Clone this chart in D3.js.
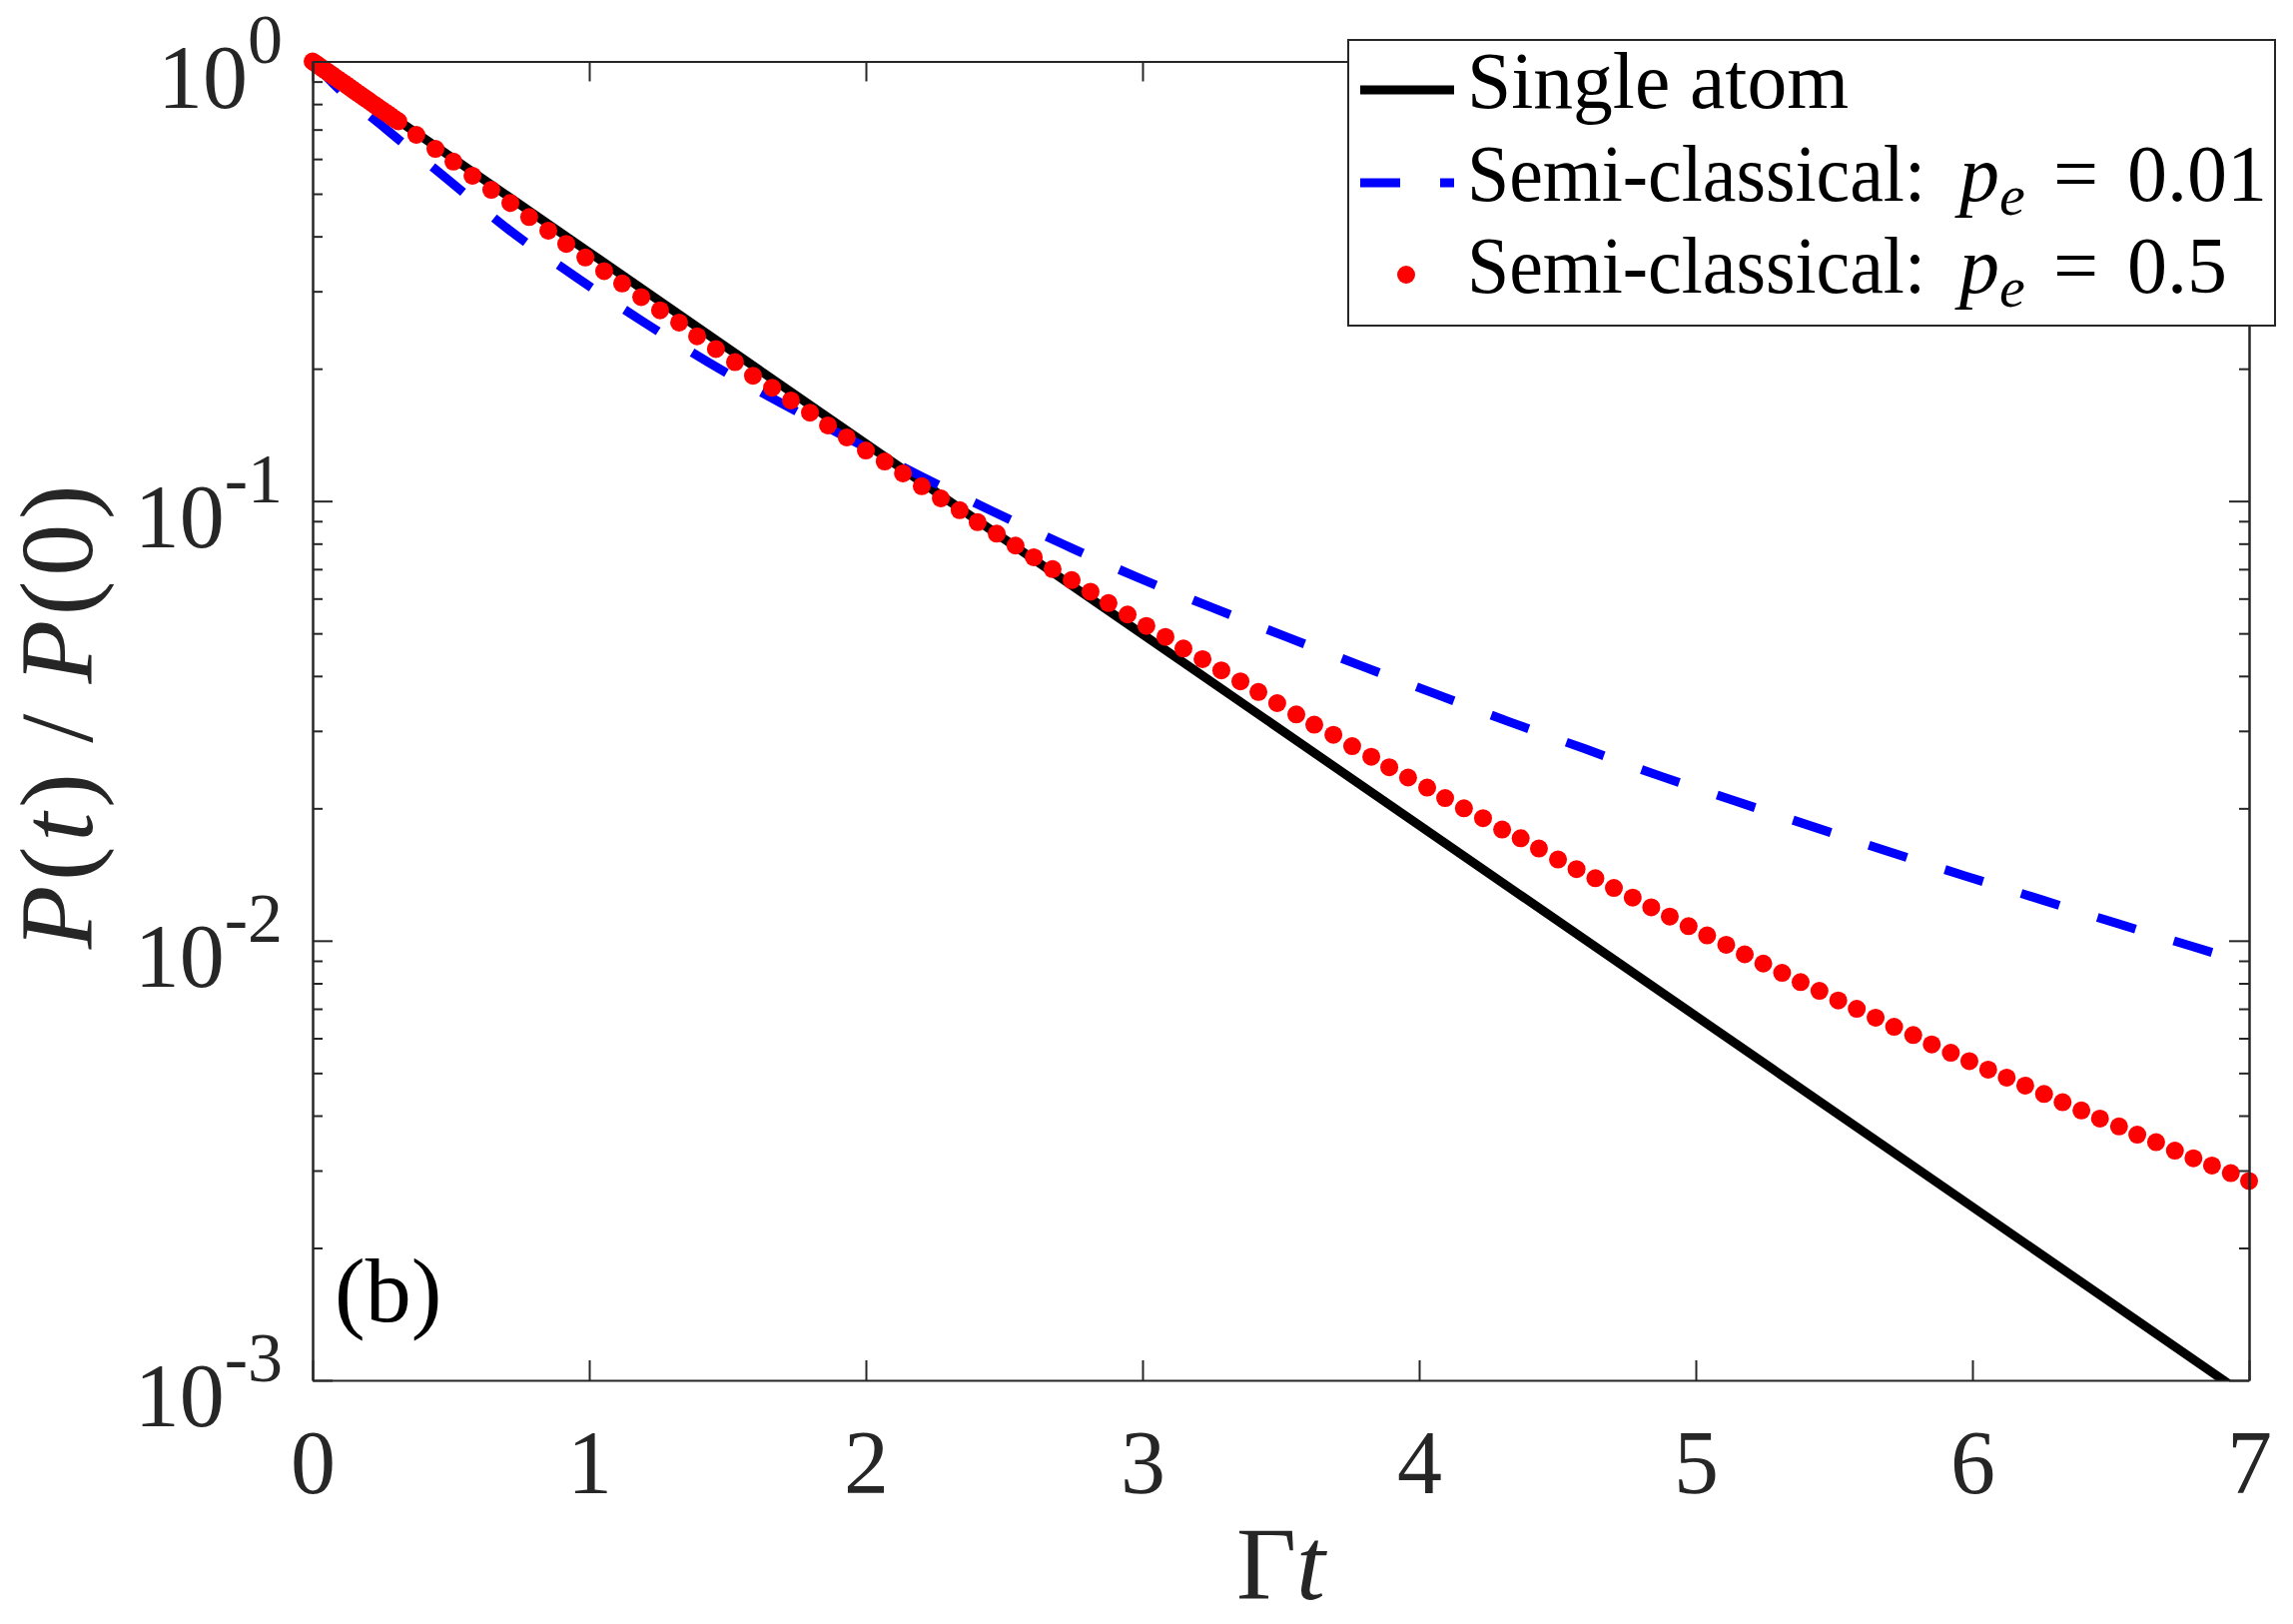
<!DOCTYPE html>
<html lang="en">
<head>
<meta charset="UTF-8">
<script src="https://d3js.org/d3.v7.min.js"></script>
<title>P(t)/P(0) decay</title>
<style>
  body { margin: 0; background: #fff; }
  svg text { font-family: "Liberation Serif", "Times New Roman", serif; }
</style>
</head>
<body>
<div id="chart"></div>
<script>
// ---- data ----
// single atom (black solid line)
const singleT = [0, 1, 2, 3, 4, 5, 6, 7];
const singleP = [1, 0.368, 0.135, 0.0498, 0.0183, 0.00674, 0.00248, 0.000912];

// semi-classical, pe = 0.01 (blue dashed)
const pe001T = [0, 0.09, 0.27, 0.49, 0.71, 0.95, 1.19, 1.43, 1.69, 1.93, 2.2, 2.46, 2.72, 2.98,
  3.25, 3.52, 3.79, 4.06, 4.33, 4.6, 4.87, 5.14, 5.42, 5.69, 5.97, 6.25, 6.52, 6.8, 7];
const pe001P = [1, 0.871, 0.698, 0.538, 0.414, 0.324, 0.257, 0.207, 0.1675, 0.1396, 0.1138, 0.0946,
  0.0794, 0.0671, 0.0573, 0.0491, 0.0422, 0.0364, 0.0314, 0.0273, 0.0237, 0.0208, 0.0182, 0.0160,
  0.01406, 0.01239, 0.01096, 0.00968, 0.00887];

// semi-classical, pe = 0.5 (red dots)
const pe05T = [0, 0.01, 0.02, 0.03, 0.04, 0.05, 0.06, 0.07, 0.08, 0.09, 0.1, 0.11, 0.12, 0.13, 0.14,
  0.15, 0.16, 0.17, 0.18, 0.19, 0.2, 0.21, 0.22, 0.23, 0.24, 0.25, 0.26, 0.27, 0.28, 0.29, 0.3, 0.31,
  0.375, 0.444, 0.509, 0.578, 0.646, 0.715, 0.783, 0.852, 0.917, 0.986,
  1.054, 1.119, 1.188, 1.256, 1.325, 1.39, 1.458, 1.527, 1.592, 1.661,
  1.729, 1.798, 1.863, 1.931, 2.0, 2.068, 2.134, 2.202, 2.271, 2.339,
  2.404, 2.473, 2.541, 2.607, 2.675, 2.744, 2.812, 2.877, 2.946, 3.014,
  3.083, 3.148, 3.217, 3.285, 3.354, 3.419, 3.487, 3.556, 3.621, 3.69,
  3.758, 3.827, 3.892, 3.96, 4.029, 4.094, 4.162, 4.231, 4.3, 4.367,
  4.433, 4.502, 4.569, 4.637, 4.704, 4.772, 4.839, 4.906, 4.974, 5.041,
  5.11, 5.177, 5.244, 5.312, 5.379, 5.447, 5.515, 5.582, 5.65, 5.717,
  5.786, 5.853, 5.922, 5.989, 6.057, 6.124, 6.191, 6.259, 6.326, 6.394,
  6.461, 6.53, 6.596, 6.664, 6.732, 6.799, 6.866, 6.934, 7.0];
const pe05P = [1.000, 0.990, 0.980, 0.970, 0.960, 0.951, 0.941, 0.932, 0.922, 0.913, 0.904, 0.895,
  0.886, 0.877, 0.868, 0.859, 0.850, 0.842, 0.833, 0.825, 0.817, 0.808, 0.800, 0.792, 0.784, 0.776,
  0.768, 0.761, 0.753, 0.745, 0.738, 0.731,
  0.6808, 0.6324, 0.5916, 0.5495, 0.5105, 0.4764, 0.4426, 0.4121, 0.3846, 0.3581,
  0.3334, 0.3126, 0.2911, 0.2716, 0.2547, 0.2371, 0.2218, 0.2070, 0.1928, 0.1811,
  0.1694, 0.1589, 0.1486, 0.1396, 0.1303, 0.1230, 0.1156, 0.1081, 0.1014, 0.0953,
  0.0895, 0.0843, 0.0792, 0.0745, 0.0700, 0.0661, 0.0622, 0.0586, 0.0552, 0.0520,
  0.0491, 0.0462, 0.0437, 0.0412, 0.0389, 0.0368, 0.0347, 0.0327, 0.0310, 0.0294,
  0.0277, 0.0262, 0.0248, 0.0235, 0.0223, 0.0211, 0.0200, 0.0190, 0.0179, 0.0171,
  0.0162, 0.0153, 0.01455, 0.01387, 0.01318, 0.01253, 0.01191, 0.01135, 0.01079, 0.01028,
  0.00979, 0.00931, 0.00887, 0.00845, 0.00805, 0.00769, 0.00731, 0.00700, 0.00668, 0.00637,
  0.00610, 0.00581, 0.00556, 0.00532, 0.00509, 0.00488, 0.00468, 0.00448, 0.00429, 0.00411,
  0.00394, 0.00378, 0.00362, 0.00348, 0.00333, 0.00320, 0.00308, 0.00296, 0.00284];

// ticks
const xTicks = [0, 1, 2, 3, 4, 5, 6, 7];
const yTicks = [1, 0.1, 0.01, 0.001];
const yTickExp = ["0", "-1", "-2", "-3"];

// legend
const legendNames = ["Single atom", "Semi-classical:", "Semi-classical:"];
const legendPe = [null, "0.01", "0.5"];

// ---- layout ----
const W = 2296, H = 1626;
const plot = { left: 313, right: 2252, top: 61.5, bottom: 1382 };
const ink = "#262626";

const x = d3.scaleLinear().domain([0, 7]).range([plot.left, plot.right]);
const y = d3.scaleLog().domain([0.001, 1]).range([plot.bottom, plot.top]);

const svg = d3.select("#chart").append("svg")
  .attr("width", W).attr("height", H);
svg.append("rect").attr("width", W).attr("height", H).attr("fill", "#fff");

svg.append("clipPath").attr("id", "clip")
  .append("rect")
  .attr("x", plot.left).attr("y", plot.top)
  .attr("width", plot.right - plot.left).attr("height", plot.bottom - plot.top);

// ---- curves ----
const line = d3.line().x(d => x(d[0])).y(d => y(d[1]));

svg.append("path")
  .datum(d3.zip(singleT, singleP))
  .attr("clip-path", "url(#clip)")
  .attr("fill", "none").attr("stroke", "#000").attr("stroke-width", 9)
  .attr("d", line);

svg.append("path")
  .datum(d3.zip(pe001T, pe001P))
  .attr("clip-path", "url(#clip)")
  .attr("fill", "none").attr("stroke", "#0000ff").attr("stroke-width", 9)
  .attr("stroke-dasharray", "40,40")
  .attr("d", line.curve(d3.curveMonotoneX));

svg.append("g")
  .selectAll("circle")
  .data(d3.zip(pe05T, pe05P))
  .join("circle")
  .attr("cx", d => x(d[0]))
  .attr("cy", d => y(d[1]))
  .attr("r", 9)
  .attr("fill", "#ff0000");

// ---- axes (ticks point inward on all four sides) ----
function styleAxis(g) {
  g.attr("color", ink);
  g.select(".domain").attr("stroke-width", 2);
  g.selectAll(".tick line").attr("stroke-width", 2);
}
const minorY = y.ticks().filter(v => Math.abs(Math.log10(v) - Math.round(Math.log10(v))) > 1e-6);

svg.append("g")
  .attr("transform", `translate(0,${plot.bottom})`)
  .call(d3.axisBottom(x).tickValues(xTicks).tickFormat(d3.format("d"))
    .tickSizeInner(-20).tickSizeOuter(0).tickPadding(49))
  .call(styleAxis)
  .attr("font-size", 90)
  .attr("font-family", "Liberation Serif, serif");

svg.append("g")
  .attr("transform", `translate(0,${plot.top})`)
  .call(d3.axisTop(x).tickValues(xTicks).tickSizeInner(-20).tickSizeOuter(0).tickFormat(""))
  .call(styleAxis);

[[d3.axisLeft, plot.left], [d3.axisRight, plot.right]].forEach(([ax, pos]) => {
  svg.append("g")
    .attr("transform", `translate(${pos},0)`)
    .call(ax(y).tickValues(yTicks).tickSizeInner(-20).tickSizeOuter(0).tickFormat(""))
    .call(styleAxis);
  svg.append("g")
    .attr("transform", `translate(${pos},0)`)
    .call(ax(y).tickValues(minorY).tickSizeInner(-10).tickSizeOuter(0).tickFormat(""))
    .call(styleAxis);
});

// y tick labels 10^k
const yLab = svg.append("g").selectAll("text")
  .data(yTicks)
  .join("text")
  .attr("x", plot.left - 30)
  .attr("y", d => y(d) + 46)
  .attr("text-anchor", "end")
  .attr("fill", ink)
  .attr("font-size", 90);
yLab.append("tspan").text("10");
yLab.append("tspan")
  .attr("font-size", 70)
  .attr("dy", -45)
  .text((d, i) => yTickExp[i]);

// axis titles
const xt = svg.append("text")
  .attr("x", (plot.left + plot.right) / 2)
  .attr("y", 1601)
  .attr("text-anchor", "middle")
  .attr("fill", ink)
  .attr("font-size", 104);
xt.append("tspan").text("Γ");
xt.append("tspan").attr("font-style", "italic").text("t");

const yt = svg.append("text")
  .attr("transform", `translate(92,${(plot.top + plot.bottom) / 2 - 4}) rotate(-90)`)
  .attr("text-anchor", "middle")
  .attr("fill", ink)
  .attr("font-size", 104)
  .attr("textLength", 465)
  .attr("lengthAdjust", "spacing");
[["P", true], ["(", false], ["t", true], [")\u2009/\u2009", false], ["P", true], ["(0)", false]]
  .forEach(([s, it]) => yt.append("tspan").attr("font-style", it ? "italic" : "normal").text(s));

svg.append("text")
  .attr("x", 335).attr("y", 1323)
  .attr("fill", "#000")
  .attr("font-size", 92)
  .text("(b)");

// ---- legend ----
const lg = svg.append("g");
lg.append("rect")
  .attr("x", 1350).attr("y", 40).attr("width", 928).attr("height", 286)
  .attr("fill", "#fff").attr("stroke", ink).attr("stroke-width", 2);

const rows = [90, 183, 275];
lg.append("line")
  .attr("x1", 1362).attr("x2", 1456).attr("y1", rows[0]).attr("y2", rows[0])
  .attr("stroke", "#000").attr("stroke-width", 9);
lg.append("line")
  .attr("x1", 1362).attr("x2", 1456).attr("y1", rows[1]).attr("y2", rows[1])
  .attr("stroke", "#0000ff").attr("stroke-width", 9).attr("stroke-dasharray", "40,40");
lg.append("circle")
  .attr("cx", 1408).attr("cy", rows[2]).attr("r", 9).attr("fill", "#ff0000");

legendNames.forEach((name, i) => {
  const base = rows[i] + 18;
  const t = lg.append("text")
    .attr("x", 1469).attr("y", base)
    .attr("fill", "#000")
    .attr("font-size", 80);
  if (!legendPe[i]) {
    t.attr("textLength", 382).attr("lengthAdjust", "spacingAndGlyphs").text(name);
    return;
  }
  t.append("tspan")
    .attr("textLength", 459).attr("lengthAdjust", "spacingAndGlyphs")
    .text(name);
  t.append("tspan").attr("x", 1962).attr("font-style", "italic").text("p");
  t.append("tspan").attr("font-style", "italic").attr("font-size", 58).attr("dy", 14).text("e");
  t.append("tspan").attr("x", 2056).attr("dy", -14).text("=");
  t.append("tspan").attr("x", 2130).text(legendPe[i]);
});
</script>
</body>
</html>
